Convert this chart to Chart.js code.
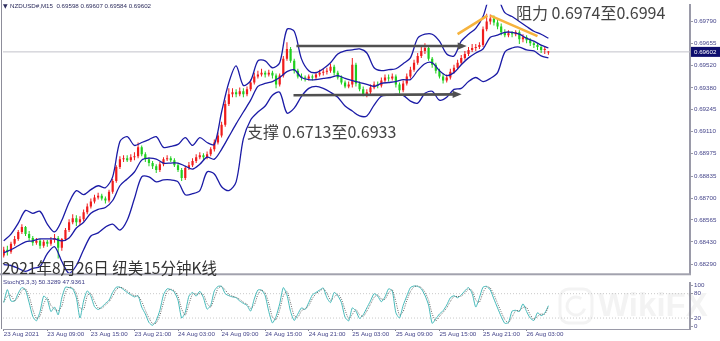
<!DOCTYPE html>
<html><head><meta charset="utf-8">
<script src="https://cdn.jsdelivr.net/npm/chart.js@4.4.1/dist/chart.umd.min.js"></script>
<style>
html,body{margin:0;padding:0;background:#fff;}
#wrap{position:relative;width:720px;height:341px;overflow:hidden;background:#fff;}
#c1{position:absolute;left:0;top:0;}
#c2{position:absolute;left:0;top:278px;}
</style></head><body>
<div id="wrap"><canvas id="c1" width="720" height="278"></canvas><canvas id="c2" width="720" height="63"></canvas></div>
<script>
// ---------- DATA (NZDUSD, 30-min candles) ----------
const FIRST_HOUR = 3;      // 23 Aug 2021 03:00, hours since 23 Aug 00:00
const CANDLE_STEP = 0.5;   // hours per candle
const BAND_STEP = 1;       // hours per band sample
const opens = [
0.68345,0.68381,0.68369,0.68418,0.68448,0.68491,0.68521,0.68478,0.68454,0.68424,
0.68436,0.68406,0.68430,0.68418,0.68442,0.68454,0.68394,0.68448,0.68503,0.68551,
0.68576,0.68551,0.68570,0.68612,0.68648,0.68679,0.68703,0.68715,0.68697,0.68685,
0.68739,0.68806,0.68891,0.68940,0.68946,0.68934,0.68952,0.68958,0.69013,0.68970,
0.68940,0.68916,0.68897,0.68873,0.68909,0.68940,0.68946,0.68934,0.68903,0.68873,
0.68824,0.68885,0.68903,0.68928,0.68952,0.68964,0.68952,0.68970,0.69001,0.69043,
0.69086,0.69152,0.69280,0.69340,0.69353,0.69340,0.69359,0.69340,0.69371,0.69413,
0.69450,0.69462,0.69474,0.69462,0.69474,0.69456,0.69401,0.69456,0.69559,0.69620,
0.69547,0.69486,0.69450,0.69444,0.69438,0.69450,0.69444,0.69462,0.69474,0.69480,
0.69486,0.69510,0.69474,0.69444,0.69413,0.69389,0.69401,0.69523,0.69407,0.69371,
0.69340,0.69353,0.69383,0.69401,0.69395,0.69425,0.69444,0.69438,0.69450,0.69401,
0.69365,0.69407,0.69450,0.69492,0.69535,0.69577,0.69608,0.69626,0.69559,0.69523,
0.69486,0.69450,0.69425,0.69444,0.69480,0.69504,0.69535,0.69565,0.69589,0.69614,
0.69626,0.69632,0.69644,0.69741,0.69790,0.69808,0.69784,0.69759,0.69723,0.69705,
0.69717,0.69711,0.69723,0.69680,0.69692,0.69674,0.69656,0.69644,0.69632,0.69614,
0.69598];
const highs = [
0.68400,0.68406,0.68430,0.68466,0.68503,0.68539,0.68527,0.68497,0.68466,0.68454,
0.68448,0.68442,0.68442,0.68460,0.68478,0.68466,0.68454,0.68515,0.68570,0.68600,
0.68594,0.68588,0.68630,0.68667,0.68697,0.68721,0.68733,0.68727,0.68709,0.68752,
0.68818,0.68903,0.68958,0.68964,0.68964,0.68970,0.68982,0.69043,0.69025,0.68982,
0.68952,0.68928,0.68909,0.68922,0.68952,0.68964,0.68958,0.68946,0.68916,0.68885,
0.68897,0.68922,0.68946,0.68970,0.68982,0.68976,0.68988,0.69013,0.69061,0.69104,
0.69171,0.69304,0.69377,0.69377,0.69371,0.69383,0.69377,0.69389,0.69431,0.69474,
0.69486,0.69498,0.69486,0.69492,0.69486,0.69468,0.69468,0.69577,0.69662,0.69632,
0.69559,0.69498,0.69468,0.69456,0.69462,0.69462,0.69480,0.69492,0.69498,0.69504,
0.69529,0.69523,0.69486,0.69456,0.69425,0.69419,0.69565,0.69535,0.69419,0.69389,
0.69371,0.69401,0.69419,0.69419,0.69444,0.69462,0.69462,0.69468,0.69462,0.69413,
0.69425,0.69468,0.69510,0.69553,0.69595,0.69632,0.69656,0.69638,0.69571,0.69535,
0.69498,0.69468,0.69462,0.69498,0.69523,0.69553,0.69583,0.69608,0.69632,0.69650,
0.69650,0.69662,0.69759,0.69838,0.69832,0.69826,0.69802,0.69777,0.69741,0.69735,
0.69729,0.69735,0.69735,0.69711,0.69705,0.69686,0.69668,0.69656,0.69644,0.69638,
0.69607];
const lows = [
0.68333,0.68345,0.68357,0.68406,0.68436,0.68478,0.68466,0.68436,0.68406,0.68412,
0.68387,0.68394,0.68400,0.68406,0.68424,0.68327,0.68375,0.68436,0.68491,0.68539,
0.68527,0.68533,0.68557,0.68600,0.68636,0.68667,0.68691,0.68685,0.68667,0.68673,
0.68727,0.68794,0.68879,0.68922,0.68922,0.68922,0.68934,0.68946,0.68958,0.68922,
0.68897,0.68879,0.68855,0.68861,0.68897,0.68928,0.68922,0.68891,0.68861,0.68806,
0.68812,0.68873,0.68891,0.68916,0.68940,0.68934,0.68940,0.68958,0.68988,0.69031,
0.69073,0.69140,0.69268,0.69322,0.69322,0.69328,0.69322,0.69328,0.69359,0.69401,
0.69438,0.69450,0.69444,0.69450,0.69438,0.69377,0.69389,0.69444,0.69547,0.69535,
0.69468,0.69438,0.69425,0.69419,0.69425,0.69425,0.69431,0.69450,0.69456,0.69462,
0.69474,0.69456,0.69431,0.69401,0.69377,0.69377,0.69383,0.69389,0.69359,0.69328,
0.69322,0.69340,0.69371,0.69377,0.69383,0.69413,0.69419,0.69425,0.69383,0.69346,
0.69353,0.69395,0.69438,0.69480,0.69523,0.69565,0.69589,0.69547,0.69504,0.69468,
0.69438,0.69407,0.69413,0.69431,0.69468,0.69492,0.69523,0.69553,0.69577,0.69601,
0.69608,0.69620,0.69632,0.69729,0.69771,0.69765,0.69741,0.69705,0.69692,0.69692,
0.69692,0.69699,0.69650,0.69662,0.69656,0.69638,0.69626,0.69614,0.69595,0.69589,
0.69584];
const closes = [
0.68381,0.68369,0.68418,0.68448,0.68491,0.68521,0.68478,0.68454,0.68424,0.68436,
0.68406,0.68430,0.68418,0.68442,0.68454,0.68394,0.68448,0.68503,0.68551,0.68576,
0.68551,0.68570,0.68612,0.68648,0.68679,0.68703,0.68715,0.68697,0.68685,0.68739,
0.68806,0.68891,0.68940,0.68946,0.68934,0.68952,0.68958,0.69013,0.68970,0.68940,
0.68916,0.68897,0.68873,0.68909,0.68940,0.68946,0.68934,0.68903,0.68873,0.68824,
0.68885,0.68903,0.68928,0.68952,0.68964,0.68952,0.68970,0.69001,0.69043,0.69086,
0.69152,0.69280,0.69340,0.69353,0.69340,0.69359,0.69340,0.69371,0.69413,0.69450,
0.69462,0.69474,0.69462,0.69474,0.69456,0.69401,0.69456,0.69559,0.69620,0.69547,
0.69486,0.69450,0.69444,0.69438,0.69450,0.69444,0.69462,0.69474,0.69480,0.69486,
0.69510,0.69474,0.69444,0.69413,0.69389,0.69401,0.69523,0.69407,0.69371,0.69340,
0.69353,0.69383,0.69401,0.69395,0.69425,0.69444,0.69438,0.69450,0.69401,0.69365,
0.69407,0.69450,0.69492,0.69535,0.69577,0.69608,0.69626,0.69559,0.69523,0.69486,
0.69450,0.69425,0.69444,0.69480,0.69504,0.69535,0.69565,0.69589,0.69614,0.69626,
0.69632,0.69644,0.69741,0.69790,0.69808,0.69784,0.69759,0.69723,0.69705,0.69717,
0.69711,0.69723,0.69680,0.69692,0.69674,0.69656,0.69644,0.69632,0.69614,0.69620,
0.69602];
// Bollinger bands (one sample per hour)
const bbUpper = [
0.68436,0.68478,0.68545,0.68624,0.68606,0.68618,0.68539,0.68491,0.68563,0.68673,
0.68746,0.68721,0.68752,0.68776,0.68764,0.68831,0.69049,0.69079,0.69025,0.69043,
0.69061,0.69079,0.69013,0.69019,0.69031,0.69073,0.69025,0.69073,0.69043,0.69031,
0.69231,0.69413,0.69516,0.69395,0.69425,0.69547,0.69547,0.69504,0.69535,0.69741,
0.69729,0.69559,0.69486,0.69474,0.69498,0.69535,0.69589,0.69608,0.69614,0.69620,
0.69595,0.69504,0.69486,0.69492,0.69498,0.69529,0.69565,0.69686,0.69711,0.69711,
0.69668,0.69589,0.69577,0.69668,0.69711,0.69747,0.69820,0.69947,0.69935,0.69844,
0.69820,0.69790,0.69759,0.69729,0.69711,0.69686];
const bbMiddle = [
0.68363,0.68381,0.68406,0.68430,0.68436,0.68448,0.68448,0.68448,0.68436,0.68454,
0.68515,0.68551,0.68606,0.68630,0.68642,0.68685,0.68776,0.68818,0.68861,0.68934,
0.68946,0.68940,0.68916,0.68916,0.68916,0.68897,0.68879,0.68909,0.68952,0.68940,
0.69001,0.69079,0.69158,0.69231,0.69304,0.69389,0.69407,0.69419,0.69444,0.69480,
0.69492,0.69444,0.69431,0.69431,0.69438,0.69444,0.69456,0.69438,0.69425,0.69413,
0.69401,0.69389,0.69407,0.69413,0.69419,0.69431,0.69431,0.69486,0.69529,0.69535,
0.69486,0.69456,0.69474,0.69523,0.69565,0.69595,0.69620,0.69692,0.69705,0.69723,
0.69723,0.69711,0.69686,0.69668,0.69644,0.69626];
const bbLower = [
0.68290,0.68284,0.68266,0.68248,0.68266,0.68278,0.68357,0.68400,0.68309,0.68236,
0.68284,0.68381,0.68466,0.68485,0.68521,0.68539,0.68503,0.68563,0.68697,0.68831,
0.68831,0.68800,0.68812,0.68812,0.68800,0.68721,0.68727,0.68746,0.68861,0.68849,
0.68770,0.68746,0.68800,0.69067,0.69182,0.69231,0.69268,0.69334,0.69353,0.69225,
0.69255,0.69328,0.69377,0.69389,0.69377,0.69353,0.69322,0.69268,0.69237,0.69207,
0.69207,0.69274,0.69328,0.69334,0.69340,0.69334,0.69298,0.69286,0.69346,0.69359,
0.69304,0.69322,0.69371,0.69377,0.69419,0.69444,0.69419,0.69438,0.69474,0.69601,
0.69626,0.69632,0.69614,0.69608,0.69577,0.69565];
// Stochastic (5,3,3)
const stochMain = [
58,90,62,62,81,95,89,58,24,13,
36,74,66,36,47,28,70,96,95,92,
70,20,62,87,74,48,41,47,56,64,
83,96,96,90,83,77,72,75,47,30,
9,2,14,39,77,92,90,84,64,20,
34,74,83,74,86,70,42,51,87,98,
98,80,75,72,70,62,56,51,37,67,
89,89,75,36,8,24,55,95,77,36,
14,30,45,41,58,77,83,89,94,70,
58,83,75,58,22,13,45,37,19,28,
45,62,80,74,60,72,92,87,33,20,
51,74,95,99,98,92,76,52,7,18,
30,38,52,70,75,70,77,87,95,81,
47,70,96,98,89,67,45,24,7,9,
37,39,36,55,36,20,14,33,26,32,
50.3289];
const stochSignal = [
60,74,76,62,72,88,92,74,41,19,
25,55,70,51,42,38,49,83,96,94,
81,45,41,75,81,61,45,44,52,60,
74,90,96,93,87,80,75,74,61,39,
20,6,8,27,58,85,91,87,74,42,
27,54,79,79,80,78,56,47,69,93,
98,89,78,74,71,66,59,54,44,52,
78,89,82,56,22,16,40,75,86,57,
25,22,38,43,50,68,80,86,92,82,
64,71,79,67,40,18,29,41,28,24,
37,54,71,77,67,66,82,90,60,27,
36,63,85,97,99,95,84,64,30,13,
24,34,45,61,73,73,74,82,91,88,
64,59,83,97,94,78,56,35,16,8,
23,38,38,46,46,28,17,24,30,29,
47.9361];
const yTickValues = [0.69790,0.69655,0.69520,0.69380,0.69245,0.69110,0.68975,0.68835,0.68700,0.68565,0.68430,0.68290];
const xTickHours = [3,9,15,21,27,33,39,45,51,57,63,69,75];
const xTickLabels = ['23 Aug 2021','23 Aug 09:00','23 Aug 15:00','23 Aug 21:00','24 Aug 03:00','24 Aug 09:00','24 Aug 15:00','24 Aug 21:00','25 Aug 03:00','25 Aug 09:00','25 Aug 15:00','25 Aug 21:00','26 Aug 03:00'];
const stochTicks = [0,20,80,100];
const stochLevels = [20,80];
const lastPrice = 0.69602;
const headerText = 'NZDUSD#,M15  0.69598 0.69607 0.69584 0.69602';
const stochTitle = 'Stoch(5,3,3) 50.3289 47.9361';
// trend lines: [hour, price]
const channelTop = [[43.3,0.69638],[66.2,0.69638]];
const channelBottom = [[42.9,0.69334],[65.5,0.69340]];
const resistLine1 = [[65.5,0.69711],[69.6,0.69826]];
const resistLine2 = [[70.0,0.69826],[76.5,0.69699]];
const X_MIN = 2.9, X_MAX = 97.5;
const Y_MIN = 0.68236, Y_MAX = 0.69893;

// ---------- BUILD ----------
const candleX = closes.map((_, i) => FIRST_HOUR + i * CANDLE_STEP);
const bandX = bbUpper.map((_, i) => FIRST_HOUR + i * BAND_STEP);
const RED = '#f01c1c', GREEN = '#1fcf1f';
const candleColors = closes.map((c, i) => c >= opens[i] ? RED : GREEN);
const pts = arr => arr.map(p => ({x: p[0], y: p[1]}));
const bandPts = arr => arr.map((v, i) => ({x: bandX[i], y: v}));
const BLUE = '#1b1ba6';
const smallFont = {family: 'Liberation Sans', size: 6.2};
const TXT = '#45458a';
const common = {responsive:false, animation:false, devicePixelRatio:1, events:[],
  plugins:{legend:{display:false}, tooltip:{enabled:false}}};

const mainDecor = {
  id: 'mainDecor',
  afterDatasetsDraw(chart) {
    const ctx = chart.ctx;
    chart.data.datasets.forEach((ds, i) => {
      if (!ds.arrowHead) return;
      const d = chart.getDatasetMeta(i).data;
      const a = d[d.length - 2], b = d[d.length - 1];
      const ang = Math.atan2(b.y - a.y, b.x - a.x);
      ctx.save(); ctx.translate(b.x, b.y); ctx.rotate(ang);
      ctx.beginPath(); ctx.moveTo(4, 0); ctx.lineTo(-5, -3.6); ctx.lineTo(-5, 3.6); ctx.closePath();
      ctx.fillStyle = ds.borderColor; ctx.fill(); ctx.restore();
    });
  },
  afterDraw(chart) {
    const ctx = chart.ctx, ca = chart.chartArea, ys = chart.scales.y;
    ctx.save();
    ctx.fillStyle = '#8d8d9a';
    ctx.fillRect(1, 0, 1, 278);
    ctx.fillStyle = '#a2a2ae';
    ctx.fillRect(0, ca.bottom, ca.right + 1, 2);
    // header
    ctx.fillStyle = '#2c2c5c';
    ctx.textBaseline = 'middle';
    ctx.font = '6px "DejaVu Sans"';
    ctx.fillText('\u25BC', 3, 6.5);
    ctx.font = '6.2px "Liberation Sans"';
    ctx.fillText(headerText, 10, 6.5);
    // current price
    const py = ys.getPixelForValue(lastPrice);
    ctx.fillStyle = '#0e0e6e';
    ctx.fillRect(ca.right + 1, py - 5, 30, 10);
    ctx.fillStyle = '#ffffff';
    ctx.font = '6.2px "Liberation Sans"';
    ctx.fillText(lastPrice.toFixed(5), ca.right + 4, py + 0.5);
    // annotations
    ctx.fillStyle = '#444444';
    ctx.font = '16px "Noto Sans CJK SC"';
    ctx.fillText('阻力 0.6974至0.6994', 516, 13);
    ctx.fillText('支撑 0.6713至0.6933', 247, 132);
    ctx.fillStyle = '#333333';
    ctx.font = '15.5px "Noto Sans CJK SC"';
    ctx.fillText('2021年8月26日 纽美15分钟K线', 2, 268);
    ctx.restore();
  }
};

new Chart(document.getElementById('c1'), {
  type: 'line',
  data: {datasets: [
    {type:'line', data: pts(resistLine1), borderColor:'#f6b33d', borderWidth:2.6, pointRadius:0, order:-3},
    {type:'line', data: pts(resistLine2), borderColor:'#f6b33d', borderWidth:2.6, pointRadius:0, order:-3},
    {type:'line', data: pts(channelTop), borderColor:'#505050', borderWidth:2.6, pointRadius:0, order:-3, arrowHead:true},
    {type:'line', data: pts(channelBottom), borderColor:'#505050', borderWidth:2.6, pointRadius:0, order:-3, arrowHead:true},
    {type:'line', data: bandPts(bbUpper), borderColor:BLUE, borderWidth:1.3, pointRadius:0, tension:0.3, order:0},
    {type:'line', data: bandPts(bbMiddle), borderColor:BLUE, borderWidth:1.3, pointRadius:0, tension:0.3, order:0},
    {type:'line', data: bandPts(bbLower), borderColor:BLUE, borderWidth:1.3, pointRadius:0, tension:0.3, order:0},
    {type:'bar', data: candleX.map((x, i) => ({x, y:[lows[i], highs[i]]})), backgroundColor:candleColors,
      barThickness:1, grouped:false, borderWidth:0, inflateAmount:0, order:2},
    {type:'bar', data: candleX.map((x, i) => ({x, y:[opens[i], closes[i]]})), backgroundColor:candleColors,
      barThickness:2.2, grouped:false, borderWidth:0, inflateAmount:0, minBarLength:1, order:1},
    {type:'line', data: [{x:X_MIN, y:lastPrice}, {x:X_MAX, y:lastPrice}], borderColor:'#c2c2ca', borderWidth:1, pointRadius:0, order:5}
  ]},
  options: Object.assign({}, common, {
    layout: {padding: {left:3, top:3, right:0, bottom:2}},
    scales: {
      x: {type:'linear', min:X_MIN, max:X_MAX, offset:false, display:false},
      y: {type:'linear', position:'right', min:Y_MIN, max:Y_MAX,
        afterFit: s => { s.width = 30; },
        afterBuildTicks: s => { s.ticks = yTickValues.map(v => ({value: v})); },
        ticks: {autoSkip:false, padding:1, color:TXT, font:smallFont, callback: v => Number(v).toFixed(5)},
        grid: {drawOnChartArea:false, drawTicks:true, tickLength:3, color:'#9a9aa8'},
        border: {display:true, color:'#9a9aa8', width:2}
      }
    }
  }),
  plugins: [mainDecor]
});

const stochDecor = {
  id: 'stochDecor',
  beforeDatasetsDraw(chart) {
    const ctx = chart.ctx;
    ctx.save();
    ctx.globalAlpha = 0.09;
    ctx.strokeStyle = '#777'; ctx.fillStyle = '#777'; ctx.lineWidth = 3;
    ctx.beginPath();
    if (ctx.roundRect) ctx.roundRect(560, 11, 32, 34, 9); else ctx.rect(560, 11, 32, 34);
    ctx.stroke();
    ctx.beginPath(); ctx.arc(576, 28, 9, 0.3, Math.PI * 1.7); ctx.stroke();
    ctx.font = 'bold 33px "Liberation Sans"';
    ctx.textBaseline = 'middle';
    ctx.fillText('WikiFX', 598, 29);
    ctx.restore();
  },
  afterDraw(chart) {
    const ctx = chart.ctx;
    ctx.save();
    ctx.fillStyle = '#8d8d9a';
    ctx.fillRect(1, 0, 1, 51);
    ctx.fillStyle = '#3a3a86';
    ctx.textBaseline = 'middle';
    ctx.font = '6.2px "Liberation Sans"';
    ctx.fillText(stochTitle, 3, 4);
    ctx.restore();
  }
};

new Chart(document.getElementById('c2'), {
  type: 'line',
  data: {datasets: [
    {data: stochMain.map((v, i) => ({x:candleX[i], y:v})), borderColor:'#45b9b9', borderWidth:1, pointRadius:0, tension:0.2, order:1},
    {data: stochSignal.map((v, i) => ({x:candleX[i], y:v})), borderColor:'#6a6a6a', borderWidth:1, borderDash:[1,1.3], pointRadius:0, tension:0.2, order:0},
    ...stochLevels.map(l => ({data:[{x:X_MIN, y:l}, {x:X_MAX, y:l}], borderColor:'#c9c9c9', borderWidth:1, borderDash:[1,2], pointRadius:0, order:3}))
  ]},
  options: Object.assign({}, common, {
    layout: {padding: {left:3, top:0, right:0, bottom:0}},
    scales: {
      x: {type:'linear', min:X_MIN, max:X_MAX, offset:false, position:'bottom',
        afterFit: s => { s.height = 12; },
        afterBuildTicks: s => { s.ticks = xTickHours.map(v => ({value: v})); },
        ticks: {autoSkip:false, maxRotation:0, minRotation:0, align:'start', padding:0, color:TXT, font:smallFont,
          callback: v => { const k = xTickHours.indexOf(v); return k >= 0 ? xTickLabels[k] : ''; }},
        grid: {drawOnChartArea:false, drawTicks:true, tickLength:2, color:'#80808c'},
        border: {display:true, color:'#9a9aa8', width:1}
      },
      y: {type:'linear', position:'right', min:-7, max:107,
        afterFit: s => { s.width = 30; },
        afterBuildTicks: s => { s.ticks = stochTicks.map(v => ({value: v})); },
        ticks: {autoSkip:false, padding:1, color:TXT, font:smallFont, callback: v => String(v)},
        grid: {drawOnChartArea:false, drawTicks:true, tickLength:3, color:'#9a9aa8'},
        border: {display:true, color:'#9a9aa8', width:2}
      }
    }
  }),
  plugins: [stochDecor]
});
</script>
</body></html>
